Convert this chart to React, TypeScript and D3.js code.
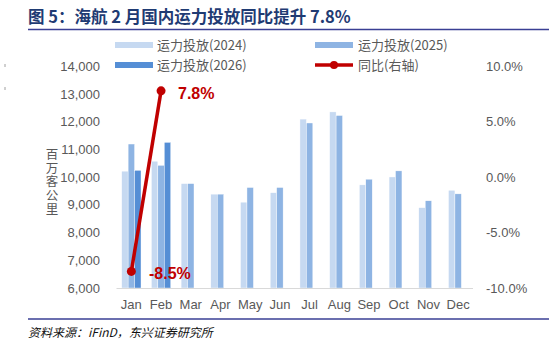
import React from "react";
import * as d3 from "d3";

const months = ["Jan","Feb","Mar","Apr","May","Jun","Jul","Aug","Sep","Oct","Nov","Dec"];
const cap2024 = [10220, 10580, 9770, 9390, 9100, 9440, 12100, 12360, 9725, 10010, 8900, 9530];
const cap2025 = [11200, 10430, 9770, 9390, 9630, 9630, 11960, 12230, 9930, 10230, 9150, 9400];
const cap2026: (number | null)[] = [10250, 11260, null, null, null, null, null, null, null, null, null, null];
const yoy = [-8.5, 7.8];
const yoyMonths = ["Jan", "Feb"];
const leftTicks = [6000, 7000, 8000, 9000, 10000, 11000, 12000, 13000, 14000];
const rightTicks = [-10, -5, 0, 5, 10];

const C24 = "#C6D9F1";
const C25 = "#8EB4E3";
const C26 = "#558ED5";
const RED = "#C00000";
const GRAY = "#595959";
const FONT = "'Liberation Sans', Arial, 'Noto Sans CJK SC', sans-serif";
const CJK = "'Noto Sans CJK SC', 'Liberation Sans', sans-serif";

export default function App() {
  const W = 549, H = 347;
  const x0 = 116.5, x1 = 473, yTop = 66.5, yBot = 288;
  const x = d3.scaleBand<string>().domain(months).range([x0, x1]).paddingInner(0.35).paddingOuter(0.175);
  const series = ["a", "b", "c"];
  const xs = d3.scaleBand<string>().domain(series).range([0, x.bandwidth()]);
  const yL = d3.scaleLinear().domain([6000, 14000]).range([yBot, yTop]);
  const yR = d3.scaleLinear().domain([-10, 10]).range([yBot, yTop]);
  const cx = (m: string) => (x(m) as number) + x.bandwidth() / 2;
  const line = d3.line<number>().x((_, i) => cx(yoyMonths[i])).y((d) => yR(d));
  const fmt = d3.format(",");
  const fmtP = (v: number) => v.toFixed(1) + "%";

  const bars: { m: string; s: string; v: number; c: string }[] = [];
  months.forEach((m, i) => {
    bars.push({ m, s: "a", v: cap2024[i], c: C24 });
    bars.push({ m, s: "b", v: cap2025[i], c: C25 });
    const v3 = cap2026[i];
    if (v3 != null) bars.push({ m, s: "c", v: v3, c: C26 });
  });

  return (
    <svg width={W} height={H} style={{ position: "absolute", left: 0, top: 0, background: "#fff" }}>
      <text x={28} y={23} fontFamily={CJK} fontWeight="bold" fontSize={16.5} fill="#1F3B73">
        图 5：海航 2 月国内运力投放同比提升 7.8%
      </text>
      <line x1={28} x2={549} y1={29.5} y2={29.5} stroke="#3A3F94" strokeWidth={1.5} />

      {/* legend */}
      <rect x={115} y={42} width={38} height={6} fill={C24} />
      <text x={157} y={50} fontFamily={CJK} fontSize={13} fill={GRAY}>运力投放(2024)</text>
      <rect x={315} y={42} width={38} height={6} fill={C25} />
      <text x={358} y={50} fontFamily={CJK} fontSize={13} fill={GRAY}>运力投放(2025)</text>
      <rect x={115} y={62} width={38} height={6} fill={C26} />
      <text x={157} y={70} fontFamily={CJK} fontSize={13} fill={GRAY}>运力投放(2026)</text>
      <line x1={315} x2={353} y1={65} y2={65} stroke={RED} strokeWidth={3.5} />
      <circle cx={334} cy={65} r={4} fill={RED} />
      <text x={358} y={70} fontFamily={CJK} fontSize={13} fill={GRAY}>同比(右轴)</text>

      {/* stray marks */}
      <line x1={5} x2={5} y1={64} y2={67} stroke="#888" strokeWidth={0.8} />
      <line x1={5} x2={5} y1={87} y2={90} stroke="#888" strokeWidth={0.8} />

      {/* left axis */}
      {leftTicks.map((t) => (
        <text key={t} x={100} y={yL(t) + 4.5} textAnchor="end" fontFamily={FONT} fontSize={13} fill={GRAY}>
          {fmt(t)}
        </text>
      ))}
      <text
        x={52}
        y={148}
        fontFamily={CJK}
        fontSize={12.5}
        fill={GRAY}
        letterSpacing={1.2}
        style={{ writingMode: "vertical-rl", textOrientation: "upright" } as any}
      >
        百万客公里
      </text>

      {/* right axis */}
      {rightTicks.map((t) => (
        <text key={t} x={486} y={yR(t) + 4.5} fontFamily={FONT} fontSize={13} fill={GRAY}>
          {fmtP(t)}
        </text>
      ))}

      {/* bars */}
      {bars.map((b, i) => (
        <rect
          key={i}
          x={(x(b.m) as number) + (xs(b.s) as number)}
          y={yL(b.v)}
          width={xs.bandwidth()}
          height={yBot - yL(b.v)}
          fill={b.c}
          stroke="#fff"
          strokeWidth={0.4}
        />
      ))}
      <line x1={x0} x2={x1} y1={yBot + 0.5} y2={yBot + 0.5} stroke="#D9D9D9" strokeWidth={1.2} />

      {/* x labels */}
      {months.map((m) => (
        <text key={m} x={cx(m)} y={309} textAnchor="middle" fontFamily={FONT} fontSize={13} fill={GRAY}>
          {m}
        </text>
      ))}

      {/* yoy line */}
      <path d={line(yoy) || ""} fill="none" stroke={RED} strokeWidth={3.5} />
      {yoy.map((v, i) => (
        <circle key={i} cx={cx(yoyMonths[i])} cy={yR(v)} r={4.5} fill={RED} />
      ))}
      <text x={178} y={99} fontFamily={FONT} fontWeight="bold" fontSize={16} fill={RED}>
        {yoy[1].toFixed(1)}%
      </text>
      <text x={149} y={279} fontFamily={FONT} fontWeight="bold" fontSize={16} fill={RED}>
        {yoy[0].toFixed(1)}%
      </text>

      <line x1={28} x2={549} y1={319} y2={319} stroke="#3A3F94" strokeWidth={1.5} />
      <text x={28} y={337} fontFamily={CJK} fontStyle="italic" fontSize={12} fill="#111">
        资料来源：iFinD，东兴证券研究所
      </text>
    </svg>
  );
}
